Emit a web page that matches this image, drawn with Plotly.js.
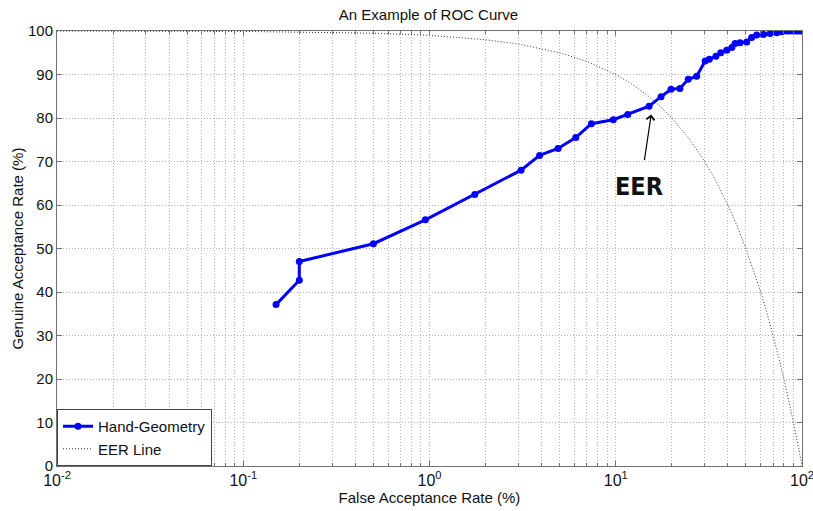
<!DOCTYPE html>
<html>
<head>
<meta charset="utf-8">
<script src="https://cdn.plot.ly/plotly-3.0.1.min.js"></script>
<style>html,body{margin:0;padding:0;background:#fff;}#chart{width:813px;height:511px;}</style>
</head>
<body>
<div id="chart"></div>
<script>
// ROC curve (Hand-Geometry)
const far = [0.15, 0.2, 0.2, 0.5, 0.95, 1.75, 3.1, 3.9, 4.9, 6.1, 7.4, 9.7, 11.6, 15.1, 17.5, 19.8, 22.1, 24.5, 27.2, 30.2, 31.8, 34.5, 36.6, 39.4, 42.0, 43.7, 46.5, 50.5, 53.7, 57.1, 62.1, 67.4, 73.3, 77.9, 82.8, 86, 90, 94, 97, 100];
const gar = [37.1, 42.7, 47.0, 51.1, 56.6, 62.4, 68.0, 71.4, 73.0, 75.5, 78.7, 79.6, 80.8, 82.7, 84.9, 86.6, 86.8, 88.9, 89.6, 93.1, 93.5, 94.2, 95.0, 95.6, 96.2, 97.1, 97.3, 97.5, 98.5, 99.1, 99.2, 99.4, 99.6, 99.8, 100, 100, 100, 100, 100, 100];
// EER line
const eerX = [0.01, 0.1, 0.5, 1, 2, 3, 5, 7, 10, 12, 15, 17.5, 20, 25, 30, 35, 40, 45, 50, 55, 60, 65, 70, 75, 80, 85, 90, 95, 98, 100];
const eerY = [99.99, 99.9, 99.5, 99, 98, 97, 95, 93, 90, 88, 85, 82.5, 80, 75, 70, 65, 60, 55, 50, 45, 40, 35, 30, 25, 20, 15, 10, 5, 2, 0];
const xTickVals = [0.01, 0.1, 1, 10, 100];
const xTickText = ['10<sup>-2</sup>', '10<sup>-1</sup>', '10<sup>0</sup>', '10<sup>1</sup>', '10<sup>2</sup>'];
const yTickVals = [0, 10, 20, 30, 40, 50, 60, 70, 80, 90, 100];
const eerLabel = {text: 'EER', x: 13.3, y: 64.3};
const eerArrowHead = {x: 15.5, y: 80.8};

const font = 'Arial, "Liberation Sans", sans-serif';
const gridCol = '#b4b4b4';
const axisCol = '#707070';

const traces = [
  {x: far, y: gar, type: 'scatter', mode: 'lines+markers', name: 'Hand-Geometry',
   line: {color: '#0000ff', width: 3}, marker: {color: '#0000ff', size: 7}},
  {x: eerX, y: eerY, type: 'scatter', mode: 'lines', name: 'EER Line',
   line: {color: '#333333', width: 1, dash: '1px,2px'}}
];

const layout = {
  width: 813, height: 511,
  margin: {l: 57, r: 11, t: 31, b: 45},
  paper_bgcolor: '#fff', plot_bgcolor: '#fff',
  font: {family: font, size: 15, color: '#111'},
  showlegend: true,
  title: {text: 'An Example of ROC Curve', font: {family: font, size: 15, color: '#111'}, x: 0.527, xanchor: 'center', y: 0.972, yanchor: 'middle'},
  xaxis: {
    type: 'log', range: [-2, 2], tickvals: xTickVals, ticktext: xTickText,
    ticklabeloverflow: 'allow',
    showline: true, linecolor: axisCol, linewidth: 1, mirror: 'ticks',
    ticks: 'inside', ticklen: 5, tickcolor: axisCol,
    showgrid: true, gridcolor: gridCol, griddash: '1px,2px', gridwidth: 1,
    minor: {dtick: 'D1', showgrid: true, gridcolor: gridCol, griddash: '1px,2px', ticks: 'inside', ticklen: 3, tickcolor: axisCol},
    zeroline: false, automargin: false,
    tickfont: {size: 16, family: font, color: '#111'},
    title: {text: 'False Acceptance Rate (%)', font: {size: 15, family: font, color: '#111'}, standoff: 0}
  },
  yaxis: {
    range: [0, 100], tickvals: yTickVals,
    showline: true, linecolor: axisCol, linewidth: 1, mirror: 'ticks',
    ticks: 'inside', ticklen: 5, tickcolor: axisCol,
    showgrid: true, gridcolor: gridCol, griddash: '1px,2px', gridwidth: 1,
    zeroline: false, automargin: false,
    tickfont: {size: 15, family: font, color: '#111'},
    title: {text: 'Genuine Acceptance Rate (%)', font: {size: 15, family: font, color: '#111'}, standoff: 0}
  },
  legend: {x: 0, y: 0, xanchor: 'left', yanchor: 'bottom', bgcolor: '#fff',
           bordercolor: '#444', borderwidth: 1, font: {size: 15, family: font, color: '#111'},
           itemwidth: 30, tracegroupgap: 0},
  annotations: [
    {x: Math.log10(eerArrowHead.x), y: eerArrowHead.y, xref: 'x', yref: 'y', text: '',
     showarrow: true, arrowhead: 4, arrowsize: 1.3, arrowwidth: 1.2, arrowcolor: '#000', ax: -7, ay: 47},
    {x: Math.log10(eerLabel.x), y: eerLabel.y, xref: 'x', yref: 'y', text: '<b>EER</b>', showarrow: false,
     font: {family: '"Liberation Sans Narrow", "DejaVu Sans Condensed", "Open Sans", sans-serif', size: 25, color: '#111'}}
  ]
};

Plotly.newPlot('chart', traces, layout, {displayModeBar: false, staticPlot: true});
</script>
</body>
</html>
